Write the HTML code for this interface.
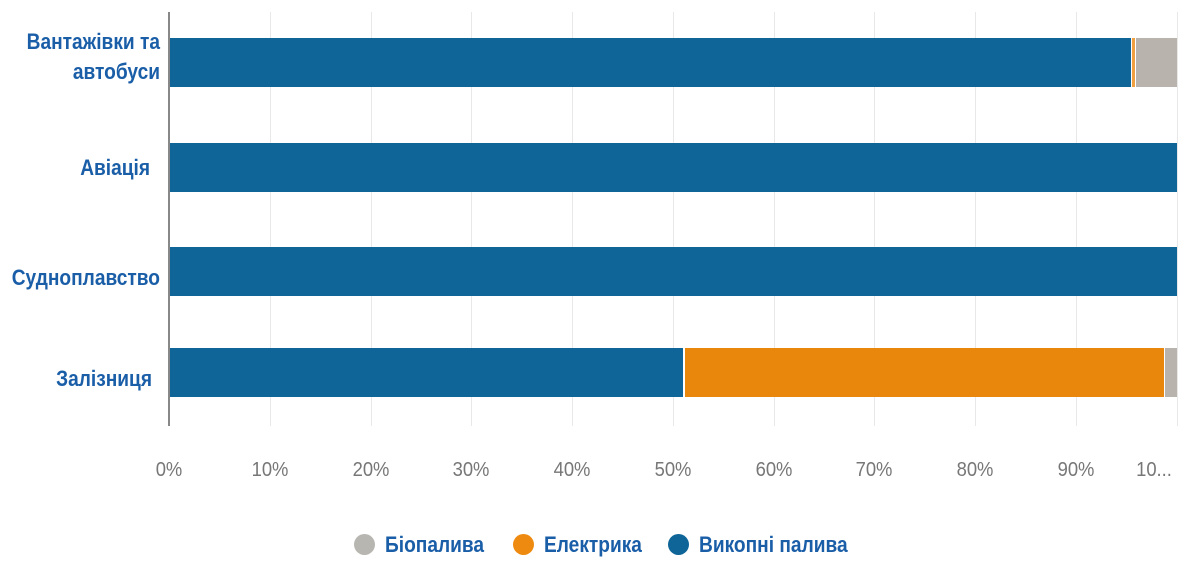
<!DOCTYPE html>
<html><head><meta charset="utf-8"><style>
body{margin:0;width:1200px;height:576px;background:#fff;position:relative;overflow:hidden;font-family:"Liberation Sans",sans-serif}
.g{position:absolute;top:12px;height:414px;width:1px;background:#e8e8e8}
.b{position:absolute;height:49px}
.l{position:absolute;color:#1a5ea8;font-weight:bold;font-size:22px;text-align:right;line-height:30px;width:220px;left:-60px;transform:scaleX(0.87);transform-origin:right center;white-space:nowrap}
.t{position:absolute;top:459px;color:#777;font-size:20px;width:60px;text-align:center;transform:scaleX(0.92)}
.lg{position:absolute;top:530px;font-size:22px;font-weight:bold;color:#1a5ea8;line-height:30px;white-space:nowrap}
.lg span.x{display:inline-block;transform:scaleX(0.87);transform-origin:left center}
.d{display:inline-block;width:21px;height:21px;border-radius:50%;vertical-align:-3px;margin-right:10px}
</style></head><body>
<div class="g" style="left:270px"></div><div class="g" style="left:371px"></div><div class="g" style="left:471px"></div><div class="g" style="left:572px"></div><div class="g" style="left:673px"></div><div class="g" style="left:774px"></div><div class="g" style="left:874px"></div><div class="g" style="left:975px"></div><div class="g" style="left:1076px"></div><div class="g" style="left:1177px"></div>
<div style="position:absolute;left:168px;top:12px;width:2px;height:414px;background:#888"></div>
<div class="b" style="left:170px;top:38px;width:961px;background:#0f6597"></div>
<div class="b" style="left:1132px;top:38px;width:3px;background:#f0a040"></div>
<div class="b" style="left:1136px;top:38px;width:41px;background:#b8b4ad"></div>
<div class="b" style="left:170px;top:143px;width:1007px;background:#0f6597"></div>
<div class="b" style="left:170px;top:247px;width:1007px;background:#0f6597"></div>
<div class="b" style="left:170px;top:348px;width:513px;background:#0f6597"></div>
<div class="b" style="left:685px;top:348px;width:479px;background:#e8870b"></div>
<div class="b" style="left:1165px;top:348px;width:12px;background:#b8b4ad"></div>
<div class="l" style="top:27px">Вантажівки та<br>автобуси</div>
<div class="l" style="top:153px;left:-70px">Авіація</div>
<div class="l" style="top:263px">Судноплавство</div>
<div class="l" style="top:364px;left:-68px">Залізниця</div>
<div class="t" style="left:139px">0%</div><div class="t" style="left:240px">10%</div><div class="t" style="left:341px">20%</div><div class="t" style="left:441px">30%</div><div class="t" style="left:542px">40%</div><div class="t" style="left:643px">50%</div><div class="t" style="left:744px">60%</div><div class="t" style="left:844px">70%</div><div class="t" style="left:945px">80%</div><div class="t" style="left:1046px">90%</div><div class="t" style="left:1124px">10...</div>
<div class="lg" style="left:354px"><span class="d" style="background:#b8b6b0"></span><span class="x">Біопалива</span></div>
<div class="lg" style="left:513px"><span class="d" style="background:#ee8a10"></span><span class="x">Електрика</span></div>
<div class="lg" style="left:668px"><span class="d" style="background:#0f6597"></span><span class="x">Викопні палива</span></div>
</body></html>
